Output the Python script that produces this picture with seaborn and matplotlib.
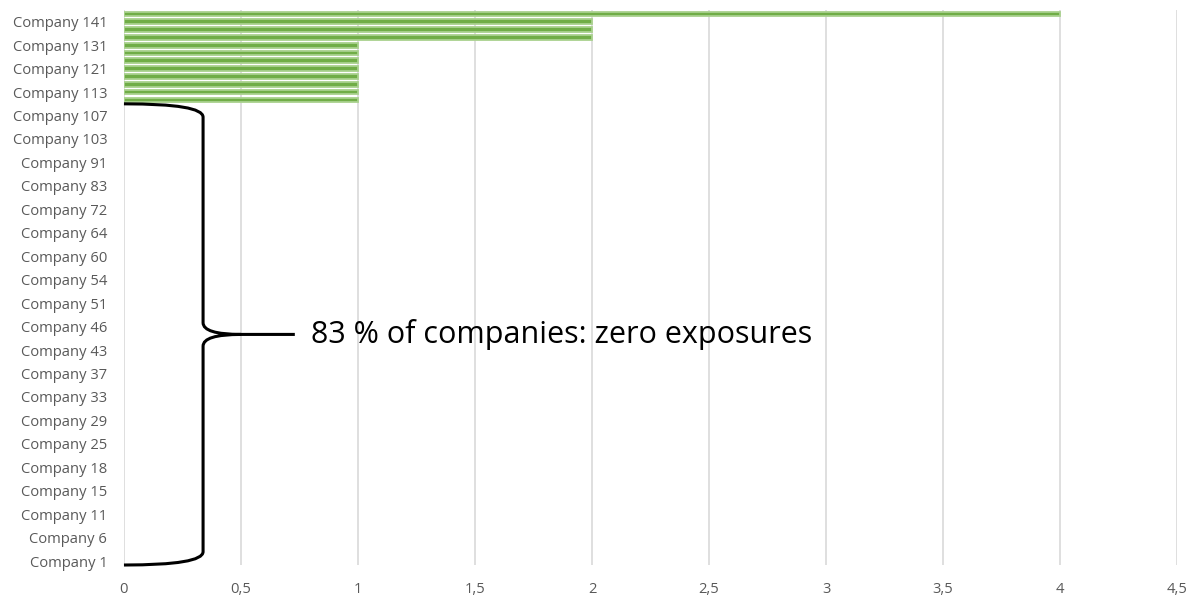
import matplotlib
matplotlib.use("Agg")
import matplotlib.pyplot as plt
import seaborn as sns
import pandas as pd
from matplotlib.path import Path
from matplotlib.patches import PathPatch

company_numbers = [1, 3, 4, 6, 8, 9, 11, 12, 14, 15, 16, 17, 18, 20, 23, 25, 26, 27, 29, 30,
                   32, 33, 34, 36, 37, 39, 41, 43, 44, 45, 46, 48, 50, 51, 52, 53, 54, 56, 58, 60,
                   61, 63, 64, 67, 70, 72, 76, 79, 83, 86, 88, 91, 95, 99, 103, 104, 106, 107, 109, 111,
                   113, 116, 118, 121, 124, 128, 131, 134, 138, 141, 144]
exposures = [0, 0, 0, 0, 0, 0, 0, 0, 0, 0, 0, 0, 0, 0, 0, 0, 0, 0, 0, 0,
             0, 0, 0, 0, 0, 0, 0, 0, 0, 0, 0, 0, 0, 0, 0, 0, 0, 0, 0, 0,
             0, 0, 0, 0, 0, 0, 0, 0, 0, 0, 0, 0, 0, 0, 0, 0, 0, 0, 0, 1,
             1, 1, 1, 1, 1, 1, 1, 2, 2, 2, 4]
x_ticks = [0, 0.5, 1, 1.5, 2, 2.5, 3, 3.5, 4, 4.5]
x_tick_labels = ["0", "0,5", "1", "1,5", "2", "2,5", "3", "3,5", "4", "4,5"]
annotation_text = "83 % of companies: zero exposures"

companies = [f"Company {n}" for n in company_numbers]
df = pd.DataFrame({"company": companies, "value": exposures})
n = len(companies)

sns.set_theme(style="white")
plt.rcParams["font.family"] = ["Open Sans", "DejaVu Sans"]

fig, ax = plt.subplots(figsize=(12, 6), dpi=100)
fig.subplots_adjust(left=0.1033, right=0.981, top=0.9833, bottom=0.0583)

order = companies[::-1]
sns.barplot(data=df, y="company", x="value", order=order, orient="h",
            color="#70AD47", width=0.6, ax=ax, saturation=1,
            edgecolor="#A9D18E", linewidth=1.3)
for p in ax.patches:
    if p.get_width() == 0:
        p.set_visible(False)

ax.set_xlim(0, 4.5)
ax.set_ylim(n - 0.5, -0.5)
ax.set_xticks(x_ticks)
ax.set_xticklabels(x_tick_labels)
ax.xaxis.grid(True, color="#D9D9D9", linewidth=1.2)
ax.yaxis.grid(False)
ax.set_axisbelow(True)
for s in ax.spines.values():
    s.set_visible(False)

# show every third label starting from the first company (bottom)
pos = [n - 1 - i for i in range(0, n, 3)]
ax.set_yticks(pos)
ax.set_yticklabels([companies[i] for i in range(0, n, 3)])
ax.tick_params(axis="both", length=0, labelsize=10.6, colors="#595959")
ax.tick_params(axis="x", pad=12)
ax.tick_params(axis="y", pad=12)
ax.set_xlabel("")
ax.set_ylabel("")

# curly brace spanning the zero-exposure companies
n_zero = sum(1 for v in exposures if v == 0)
top = n - 1 - (n_zero - 0.5)
bot = n - 1 - (-0.5)
mid = (top + bot) / 2
xv, xt, xl = 0.338, 0.50, 0.73
verts = [(0, top), (xv, top), (xv, top + 1.7),
         (xv, mid - 1.5),
         (xv, mid), (xt, mid),
         (xl, mid),
         (xt, mid),
         (xv, mid), (xv, mid + 1.5),
         (xv, bot - 1.7),
         (xv, bot), (0, bot)]
codes = [Path.MOVETO, Path.CURVE3, Path.CURVE3,
         Path.LINETO,
         Path.CURVE3, Path.CURVE3,
         Path.LINETO,
         Path.MOVETO,
         Path.CURVE3, Path.CURVE3,
         Path.LINETO,
         Path.CURVE3, Path.CURVE3]
ax.add_patch(PathPatch(Path(verts, codes), fill=False, edgecolor="black",
                       linewidth=2.2, clip_on=False, zorder=5))
ax.text(0.80, mid, annotation_text, fontsize=22, color="black",
        va="center", ha="left")

fig.savefig("out.png", dpi=100)
